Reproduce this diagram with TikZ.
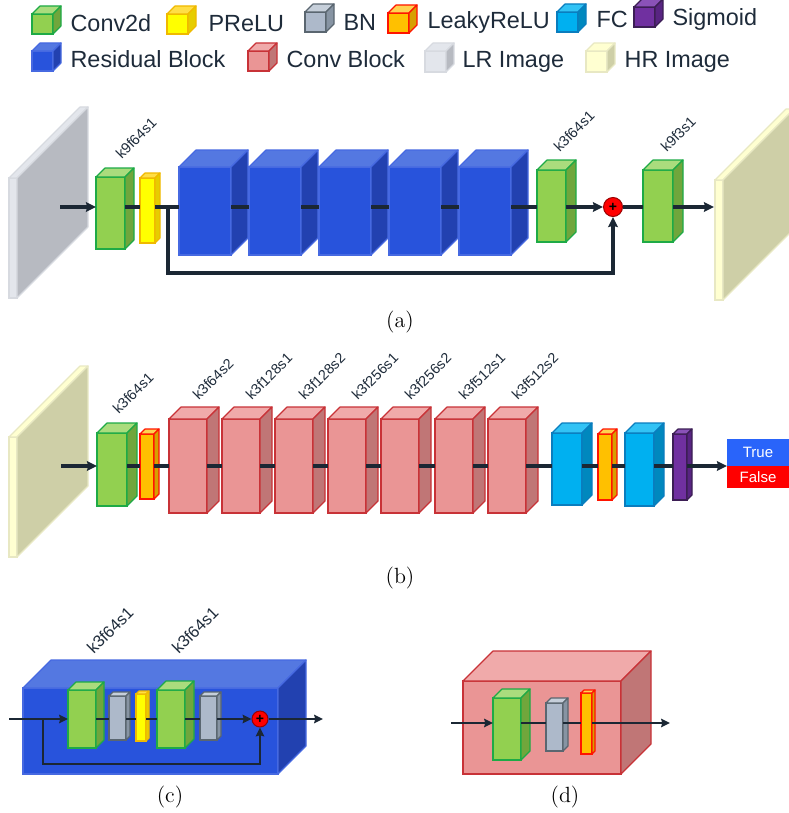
\documentclass[tikz,border=0pt]{standalone}
\usepackage{fontspec}
\usepackage{tikz}
\usetikzlibrary{arrows.meta,positioning}
\newfontfamily\arialfont{Liberation Sans}

\definecolor{txt}{RGB}{30,43,58}
% cube colours: front, top, side, edge
\definecolor{convfront}{RGB}{146,208,80}
\definecolor{convtop}{RGB}{170,220,125}
\definecolor{convside}{RGB}{112,166,60}
\definecolor{convedge}{RGB}{30,170,70}
\definecolor{prelufront}{RGB}{255,255,0}
\definecolor{prelutop}{RGB}{255,222,70}
\definecolor{preluside}{RGB}{230,205,0}
\definecolor{preluedge}{RGB}{240,185,0}
\definecolor{bnfront}{RGB}{173,185,202}
\definecolor{bntop}{RGB}{198,207,218}
\definecolor{bnside}{RGB}{135,148,163}
\definecolor{bnedge}{RGB}{90,102,112}
\definecolor{leakyfront}{RGB}{255,192,0}
\definecolor{leakytop}{RGB}{255,210,80}
\definecolor{leakyside}{RGB}{215,160,0}
\definecolor{leakyedge}{RGB}{255,20,0}
\definecolor{fcfront}{RGB}{0,176,240}
\definecolor{fctop}{RGB}{50,195,245}
\definecolor{fcside}{RGB}{0,136,190}
\definecolor{fcedge}{RGB}{10,125,190}
\definecolor{sigfront}{RGB}{112,48,160}
\definecolor{sigtop}{RGB}{138,82,184}
\definecolor{sigside}{RGB}{88,36,130}
\definecolor{sigedge}{RGB}{60,30,85}
\definecolor{resfront}{RGB}{40,83,220}
\definecolor{restop}{RGB}{84,120,225}
\definecolor{resside}{RGB}{34,65,176}
\definecolor{resedge}{RGB}{70,105,225}
\definecolor{cbfront}{RGB}{234,149,149}
\definecolor{cbtop}{RGB}{240,170,170}
\definecolor{cbside}{RGB}{192,118,118}
\definecolor{cbedge}{RGB}{200,50,55}
\definecolor{lrfront}{RGB}{227,230,236}
\definecolor{lrtop}{RGB}{227,230,236}
\definecolor{lrside}{RGB}{183,186,193}
\definecolor{lredge}{RGB}{215,218,224}
\definecolor{hrfront}{RGB}{255,255,209}
\definecolor{hrtop}{RGB}{255,255,209}
\definecolor{hrside}{RGB}{206,207,167}
\definecolor{hredge}{RGB}{232,232,195}
\definecolor{trueblue}{RGB}{41,100,250}
\definecolor{falsered}{RGB}{255,0,0}

% name, x, y (front top left), width, height, depth, kind
\newcommand{\drawcube}[7]{%
  \node[cube=#7, minimum width=#4*0.5pt, minimum height=#5*0.5pt] (#1) at (#2,#3) {};
  \filldraw[cubeedge=#7, fill=#7top] (#1.north west) -- ++(#6,-#6) -- ++(#4,0) -- (#1.north east) -- cycle;
  \filldraw[cubeedge=#7, fill=#7side] (#1.north east) -- ++(#6,-#6) -- ++(0,#5) -- (#1.south east) -- cycle;}

\begin{document}
\begin{tikzpicture}[x=0.5pt,y=-0.5pt,->,>={Stealth[length=5pt,width=4.8pt,inset=0.6pt]},
	line width=1.6pt,txt!90!black]
	\tikzstyle{cube}=[draw=#1edge,fill=#1front,line width=0.6pt,inner sep=0pt,outer sep=0pt,anchor=north west,-]
	\tikzstyle{cubeedge}=[draw=#1edge,line width=0.6pt,line join=round,-]
	\tikzstyle{legtext}=[font=\arialfont\fontsize{11.7}{14}\selectfont,text=txt,anchor=base west,inner sep=0pt]
	\tikzstyle{lbl}=[font=\arialfont\fontsize{7.2}{8.6}\selectfont,text=txt,rotate=45,anchor=south west,inner sep=0pt]
	\tikzstyle{biglbl}=[lbl,font=\arialfont\fontsize{8.2}{9.8}\selectfont]
	\tikzstyle{caption}=[font=\fontsize{11}{13}\selectfont,text=black]
	\tikzstyle{adder}=[circle,draw=red!60!black,fill=red,line width=0.5pt,inner sep=0pt,
		font=\arialfont\bfseries\fontsize{7}{7}\selectfont,text=black]
	\tikzstyle{tfbox}=[font=\arialfont\fontsize{7.5}{9}\selectfont,text=white,inner sep=0pt,outer sep=0pt,
		minimum width=62*0.5pt,anchor=north west]
	\tikzstyle{thin}=[line width=1.1pt,>={Stealth[length=4.4pt,width=4.2pt,inset=0.5pt]}]
	
	\useasboundingbox (0,0) rectangle (788,813);
	
	% legend
	\drawcube{kconv}{32}{14}{21}{20}{8}{conv}
	\node[legtext] (tconv) at (69,32) {Conv2d};
	\drawcube{kprelu}{167}{14}{21}{20}{8}{prelu}
	\node[legtext] (tprelu) at (207,32) {PReLU};
	\drawcube{kbn}{305}{12}{21}{20}{8}{bn}
	\node[legtext] (tbn) at (342,31) {BN};
	\drawcube{kleaky}{388}{13}{21}{20}{8}{leaky}
	\node[legtext] (tleaky) at (426,29) {LeakyReLU};
	\drawcube{kfc}{557}{12}{21}{20}{8}{fc}
	\node[legtext] (tfc) at (595,28) {FC};
	\drawcube{ksig}{634}{7}{21}{20}{8}{sig}
	\node[legtext] (tsig) at (671,26) {Sigmoid};
	\drawcube{kres}{32}{51}{21}{20}{8}{res}
	\node[legtext] (tres) at (69,68) {Residual Block};
	\drawcube{kcb}{248}{51}{21}{20}{8}{cb}
	\node[legtext] (tcb) at (285,68) {Conv Block};
	\drawcube{klr}{425}{51}{21}{21}{8}{lr}
	\node[legtext] (tlr) at (461,68) {LR Image};
	\drawcube{khr}{586}{51}{21}{21}{8}{hr}
	\node[legtext] (thr) at (623,68) {HR Image};
	
	% (a) generator
	\coordinate (axa) at (0,207);
	\drawcube{lra}{9}{178}{8}{120}{71}{lr}
	\drawcube{g1}{96}{177}{29}{72}{9}{conv}
	\drawcube{p1}{140}{178}{15}{65}{5}{prelu}
	\foreach \i/\x in {1/179,2/249,3/319,4/389,5/459}
		\drawcube{b\i}{\x}{167}{52}{88}{17}{res};
	\drawcube{g2}{537}{170}{29}{72}{10}{conv}
	\drawcube{g3}{643}{170}{30}{72}{10}{conv}
	\drawcube{hra}{715}{180}{8}{120}{71}{hr}
	\node[adder,minimum size=19*0.5pt] (add1) at (613,207) {+};
	\coordinate (lrout) at (60,207);
	\coordinate (skipa) at (168,207);
	\coordinate (hrin) at (714,207);
	\node[lbl] (l1) at ([shift={(26,-15)}]g1.north west) {k9f64s1};
	\node[lbl] (l2) at ([shift={(23,-15)}]g2.north west) {k3f64s1};
	\node[lbl] (l3) at ([shift={(24,-15)}]g3.north west) {k9f3s1};
	
	\draw (lrout) -- (g1.west |- axa);
	\draw[-] (g1.east |- axa) -- (p1.west |- axa);
	\draw[-] (p1.east |- axa) -- (b1.west |- axa);
	\foreach \i/\j in {1/2,2/3,3/4,4/5}
		\draw[-] (b\i.east |- axa) -- (b\j.west |- axa);
	\draw[-] (b5.east |- axa) -- (g2.west |- axa);
	\draw (g2.east |- axa) -- (add1.west);
	\draw[-] (add1.east) -- (g3.west |- axa);
	\draw (g3.east |- axa) -- (hrin);
	\draw (skipa) -- ++(0,66) -| (add1.south);
	\node[caption] (capa) at (400,322) {(a)};
	
	% (b) discriminator
	\coordinate (axb) at (0,466);
	\drawcube{hrb}{9}{437}{8}{120}{71}{hr}
	\drawcube{gb}{97}{433}{30}{73}{10}{conv}
	\drawcube{o1}{140}{434}{14}{65}{5}{leaky}
	\foreach \i/\x in {1/169,2/222,3/275,4/328,5/381,6/435,7/488}
		\drawcube{c\i}{\x}{419}{38}{94}{12}{cb};
	\drawcube{f1}{552}{433}{30}{72}{10}{fc}
	\drawcube{o2}{598}{434}{14}{66}{5}{leaky}
	\drawcube{f2}{625}{433}{29}{73}{10}{fc}
	\drawcube{sg}{673}{434}{14}{66}{5}{sig}
	\node[tfbox,fill=trueblue,minimum height=27*0.5pt] (tru) at (727,439) {True};
	\node[tfbox,fill=falsered,minimum height=22*0.5pt,below=0pt of tru] (fls) {False};
	\coordinate (hrout) at (61,466);
	\node[lbl] (m0) at ([shift={(22,-16)}]gb.north west) {k3f64s1};
	\foreach \i/\t in {1/k3f64s2,2/k3f128s1,3/k3f128s2,4/k3f256s1,5/k3f256s2,6/k3f512s1,7/k3f512s2}
		\node[lbl] (m\i) at ([shift={(30,-16)}]c\i.north west) {\t};
	
	\draw (hrout) -- (gb.west |- axb);
	\draw[-] (gb.east |- axb) -- (o1.west |- axb);
	\draw[-] (o1.east |- axb) -- (c1.west |- axb);
	\foreach \i/\j in {1/2,2/3,3/4,4/5,5/6,6/7}
		\draw[-] (c\i.east |- axb) -- (c\j.west |- axb);
	\draw[-] (c7.east |- axb) -- (f1.west |- axb);
	\draw[-] (f1.east |- axb) -- (o2.west |- axb);
	\draw[-] (o2.east |- axb) -- (f2.west |- axb);
	\draw[-] (f2.east |- axb) -- (sg.west |- axb);
	\draw (sg.east |- axb) -- (tru.south west);
	\node[caption] (capb) at (400,578) {(b)};
	
	% (c) residual block
	\coordinate (axc) at (0,719);
	\drawcube{rbox}{23}{688}{255}{86}{28}{res}
	\drawcube{gc1}{68}{690}{28}{58}{8}{conv}
	\drawcube{bn1}{109}{696}{17}{44}{4}{bn}
	\drawcube{yc}{136}{694}{10}{47}{3}{prelu}
	\drawcube{gc2}{157}{690}{28}{58}{9}{conv}
	\drawcube{bn2}{200}{696}{17}{44}{4}{bn}
	\node[adder,minimum size=16*0.5pt] (add2) at (260,719) {+};
	\coordinate (cin) at (9,719);
	\coordinate (cskip) at (43,719);
	\coordinate (cout) at (323,719);
	\node[biglbl] (n1) at ([shift={(26,-33)}]gc1.north west) {k3f64s1};
	\node[biglbl] (n2) at ([shift={(22,-33)}]gc2.north west) {k3f64s1};
	
	\draw[thin] (cin) -- (gc1.west |- axc);
	\draw[thin,-] (gc1.east |- axc) -- (bn1.west |- axc);
	\draw[thin,-] (bn1.east |- axc) -- (yc.west |- axc);
	\draw[thin,-] (yc.east |- axc) -- (gc2.west |- axc);
	\draw[thin,-] (gc2.east |- axc) -- (bn2.west |- axc);
	\draw[thin] (bn2.east |- axc) -- (add2.west);
	\draw[thin] (add2.east) -- (cout);
	\draw[thin] (cskip) -- ++(0,45) -| (add2.south);
	\node[caption] (capc) at (170,797) {(c)};
	
	% (d) conv block
	\coordinate (axd) at (0,723);
	\drawcube{cbox}{463}{681}{158}{93}{30}{cb}
	\drawcube{gd}{493}{698}{28}{62}{9}{conv}
	\drawcube{bnd}{546}{703}{17}{48}{5}{bn}
	\drawcube{od}{581}{693}{11}{61}{3}{leaky}
	\coordinate (din) at (451,723);
	\coordinate (dout) at (670,723);
	
	\draw[thin] (din) -- (gd.west |- axd);
	\draw[thin,-] (gd.east |- axd) -- (bnd.west |- axd);
	\draw[thin,-] (bnd.east |- axd) -- (od.west |- axd);
	\draw[thin] (od.east |- axd) -- (dout);
	\node[caption] (capd) at (565,797) {(d)};
	
\end{tikzpicture}
\end{document}
